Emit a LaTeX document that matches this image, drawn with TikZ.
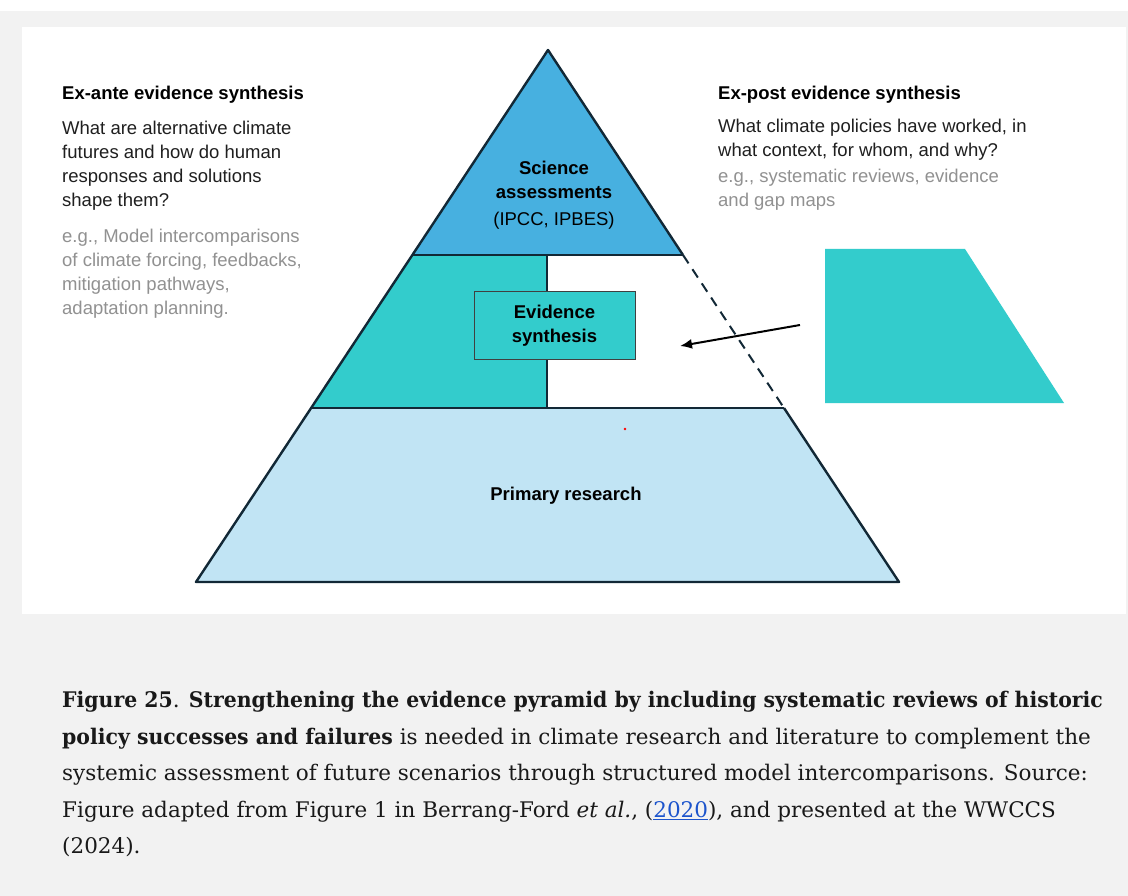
\documentclass[tikz,border=0pt]{standalone}
\usepackage{fontspec}
\setmainfont{DejaVu Serif}[BoldFeatures={FakeStretch=0.95}]
\newfontfamily\figfont{Liberation Sans}
\usetikzlibrary{arrows.meta, positioning}
\definecolor{pagegray}{RGB}{242,242,242}
\definecolor{apexblue}{RGB}{71,176,224}
\definecolor{midteal}{RGB}{51,204,204}
\definecolor{baseblue}{RGB}{193,228,244}
\definecolor{edgedark}{RGB}{18,40,54}
\definecolor{notegray}{RGB}{145,145,145}
\definecolor{linkblue}{RGB}{28,84,204}

\begin{document}
\begin{tikzpicture}[
    x=1pt, y=-1pt,
    edge/.style={draw=edgedark, line width=2.4pt, line join=round},
    heading/.style={anchor=north west, inner sep=0, font=\figfont\bfseries\fontsize{18.5}{24}\selectfont},
    bodytext/.style={anchor=north west, inner sep=0, align=left, text=black!88,
                     font=\figfont\fontsize{18.5}{24}\selectfont},
    notetext/.style={bodytext, text=notegray},
    layerlabel/.style={inner sep=0, align=center, font=\figfont\bfseries\fontsize{18.5}{24}\selectfont},
    synthbox/.style={layerlabel, rectangle, draw=black!75, line width=1pt, fill=midteal,
                     minimum width=161pt, minimum height=67pt},
    arrow/.style={-{Latex[length=12pt, width=10pt]}, line width=2pt}
]
    \useasboundingbox (0,0) rectangle (1128,896);
    \fill[white] (0,0) rectangle (1128,896);
    \fill[pagegray] (0,11) rectangle (1128,896);
    \fill[white] (22,27) rectangle (1126,614);

    \coordinate (apex) at (548,50);
    \coordinate (baseL) at (196,582);
    \coordinate (baseR) at (899,582);
    \coordinate (topL) at (412,255);
    \coordinate (topR) at (683,255);
    \coordinate (midL) at (311,408);
    \coordinate (midR) at (784,408);
    \coordinate (splitT) at (547,255);
    \coordinate (splitB) at (547,408);

    \fill[apexblue] (apex) -- (topR) -- (topL) -- cycle;
    \fill[midteal] (topL) -- (splitT) -- (splitB) -- (midL) -- cycle;
    \fill[baseblue] (midL) -- (midR) -- (baseR) -- (baseL) -- cycle;
    \draw[edge, line width=2pt] (splitT) -- (splitB);
    \draw[edge] (topR) -- (apex) -- (baseL) -- (baseR) -- (midR);
    \draw[edge] (topL) -- (topR);
    \draw[edge] (midL) -- (midR);
    \draw[edge, line width=2pt, dash pattern=on 10pt off 7pt] (topR) -- (midR);

    \fill[midteal] (825,249) -- (965,249) -- (1064,403) -- (825,403) -- cycle;
    \fill[red] (625,429) circle (1.3);

    \node[heading] (exante) at (62,85.5) {Ex-ante evidence synthesis};
    \node[bodytext] (exantequestion) at (62,120.5) {What are alternative climate\\futures and how do human\\responses and solutions\\shape them?};
    \node[notetext] (exanteexamples) at (62,228.5) {e.g., Model intercomparisons\\of climate forcing, feedbacks,\\mitigation pathways,\\adaptation planning.};
    \node[heading] (expost) at (718,85.5) {Ex-post evidence synthesis};
    \node[bodytext] (expostquestion) at (718,118.5) {What climate policies have worked, in\\what context, for whom, and why?};
    \node[notetext] (expostexamples) at (718,168.5) {e.g., systematic reviews, evidence\\and gap maps};

    \node[layerlabel, anchor=north] (science) at (554,160.5) {Science\\assessments\\[3pt]{\mdseries (IPCC, IPBES)}};
    \node[synthbox] (synth) at (554.5,325.5) {Evidence\\synthesis};
    \node[layerlabel] (primary) at (566,496) {Primary research};

    \coordinate (arrowtail) at (800,325);
    \coordinate (arrowtip) at (680,346);
    \draw[arrow] (arrowtail) -- (arrowtip);

    \node[anchor=north west, inner sep=0, align=left, text=black!90,
          font=\fontsize{21.5}{36.5}\selectfont] (caption) at (62,691)
        {\textbf{Figure 25}. \textbf{Strengthening the evidence pyramid by including systematic reviews of historic}\\
         \textbf{policy successes and failures} is needed in climate research and literature to complement the\\
         systemic assessment of future scenarios through structured model intercomparisons. Source:\\
         Figure adapted from Figure 1 in Berrang-Ford \textit{et al.}, ({\color{linkblue}\underline{2020}}), and presented at the WWCCS\\
         (2024).};
\end{tikzpicture}
\end{document}
